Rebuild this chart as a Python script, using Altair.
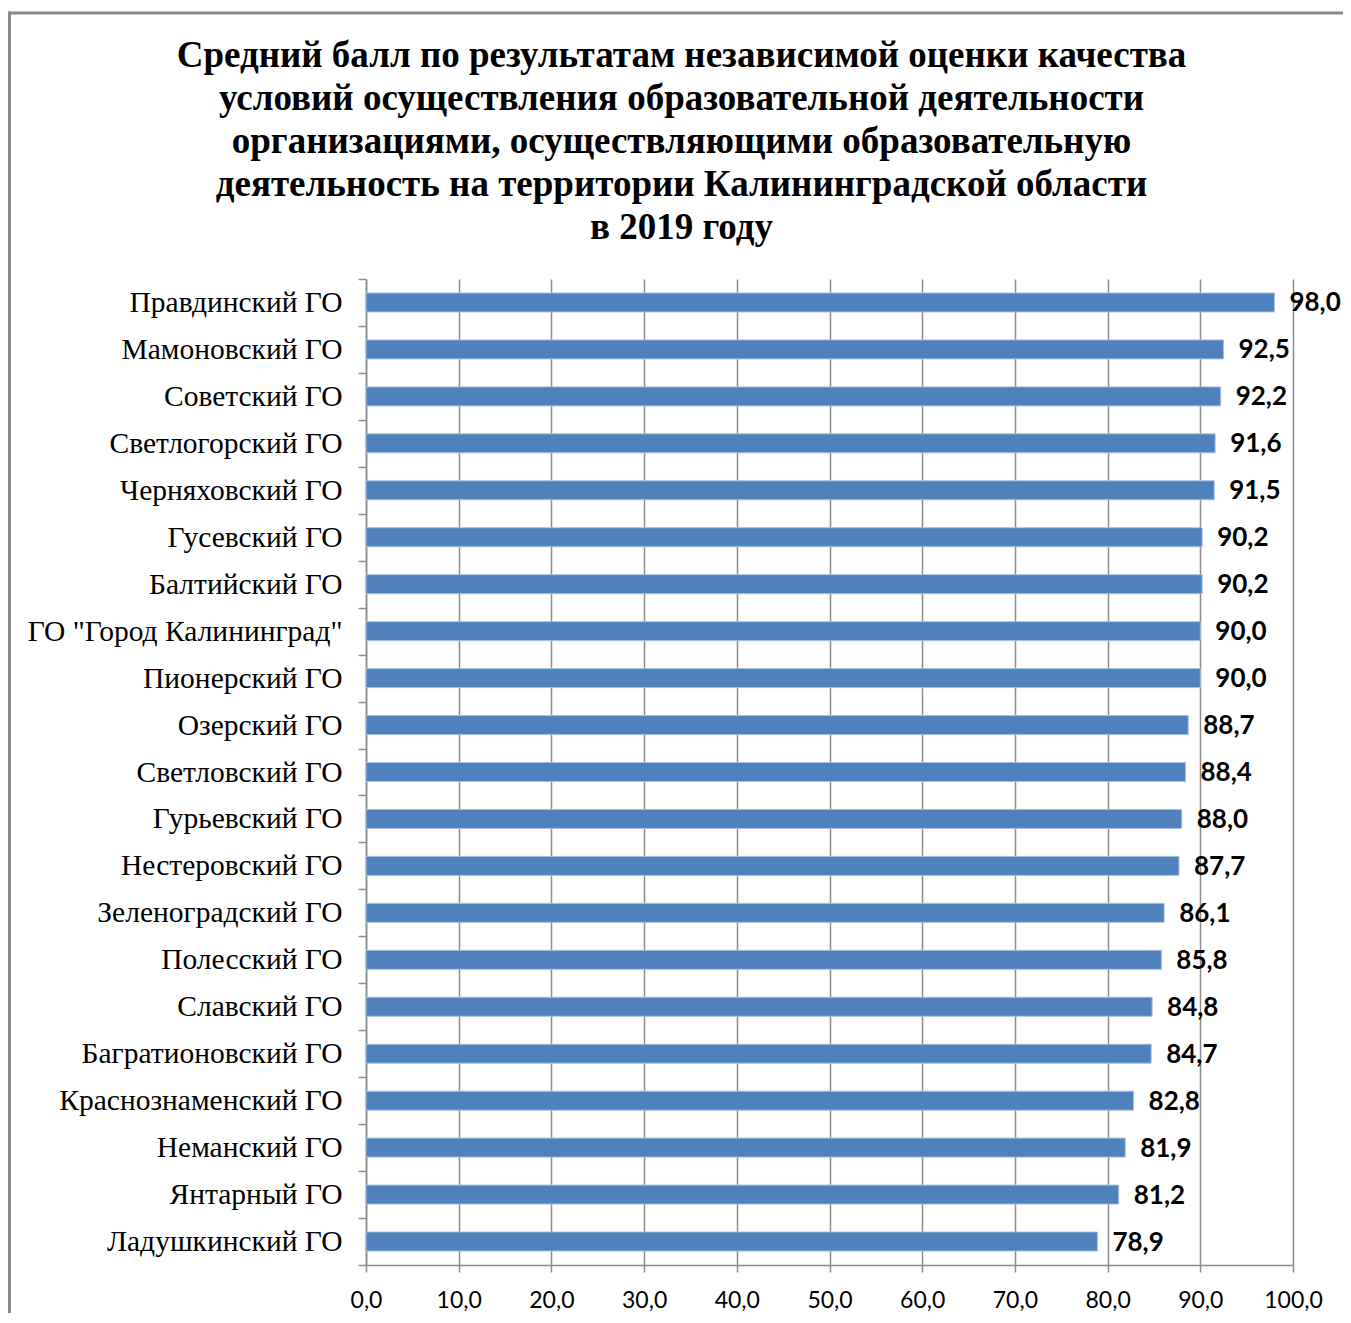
import altair as alt
import pandas as pd

categories = [
    "Правдинский ГО", "Мамоновский ГО", "Советский ГО", "Светлогорский ГО",
    "Черняховский ГО", "Гусевский ГО", "Балтийский ГО", "ГО \"Город Калининград\"",
    "Пионерский ГО", "Озерский ГО", "Светловский ГО", "Гурьевский ГО",
    "Нестеровский ГО", "Зеленоградский ГО", "Полесский ГО", "Славский ГО",
    "Багратионовский ГО", "Краснознаменский ГО", "Неманский ГО", "Янтарный ГО",
    "Ладушкинский ГО",
]
values = [98.0, 92.5, 92.2, 91.6, 91.5, 90.2, 90.2, 90.0, 90.0, 88.7, 88.4,
          88.0, 87.7, 86.1, 85.8, 84.8, 84.7, 82.8, 81.9, 81.2, 78.9]
x_ticks = [0, 10, 20, 30, 40, 50, 60, 70, 80, 90, 100]

title_lines = [
    "Средний балл по результатам независимой оценки качества",
    "условий осуществления образовательной деятельности",
    "организациями, осуществляющими образовательную",
    "деятельность на территории Калининградской области",
    "в 2019 году",
]

df = pd.DataFrame({"cat": categories, "val": values})

GRAY = "#8c8c8c"

base = alt.Chart(df).encode(
    y=alt.Y(
        "cat:N",
        sort=categories,
        title=None,
        scale=alt.Scale(paddingInner=0, paddingOuter=0),
        axis=alt.Axis(
            labelFont="Liberation Serif",
            labelFontSize=29.5,
            labelColor="black",
            labelPadding=16,
            labelLimit=400,
            tickBand="extent",
            tickSize=8,
            tickColor=GRAY,
            tickWidth=1.5,
            domainColor=GRAY,
            domainWidth=1.5,
            grid=False,
        ),
    )
)

bars = base.mark_bar(size=19, color="#4F81BD", stroke="#A9C0E0", strokeWidth=1).encode(
    x=alt.X(
        "val:Q",
        title=None,
        scale=alt.Scale(domain=[0, 100], nice=False),
        axis=alt.Axis(
            values=x_ticks,
            labelExpr="replace(format(datum.value, '.1f'), '.', ',')",
            labelFont="Lato",
            labelFontSize=23,
            labelColor="black",
            labelPadding=17,
            labelFlush=False,
            labelOverlap=False,
            tickSize=7,
            tickColor=GRAY,
            tickWidth=1.5,
            domainColor=GRAY,
            domainWidth=1.5,
            grid=True,
            gridColor=GRAY,
            gridWidth=1.5,
        ),
    )
)

labels = base.mark_text(
    align="left", baseline="middle", dx=15, dy=1,
    font="Lato", fontSize=26, fontWeight="bold", color="black",
).transform_calculate(
    lab="replace(format(datum.val, '.1f'), '.', ',')"
).encode(
    x=alt.X("val:Q"),
    text="lab:N",
)

frame_df = pd.DataFrame({"a": [0]})
frame_v = alt.Chart(frame_df).mark_rule(color="#8a8a8a", strokeWidth=3).encode(
    x=alt.value(-356.5), y=alt.value(-267.5), y2=alt.value(1100)
)
frame_h = alt.Chart(frame_df).mark_rule(color="#8a8a8a", strokeWidth=3).encode(
    x=alt.value(-358), x2=alt.value(1100), y=alt.value(-266)
)

chart = alt.layer(bars, labels, frame_v, frame_h).properties(
    width=927,
    height=986,
    autosize=alt.AutoSizeParams(type="none"),
    padding={"left": 358, "top": 271, "right": 50, "bottom": 48},
    title=alt.Title(
        title_lines,
        font="Liberation Serif",
        fontSize=37,
        fontWeight="bold",
        color="black",
        lineHeight=43,
        anchor="middle",
        frame="group",
        dx=-148,
        offset=-237,
    ),
).configure_view(stroke=None)

chart.save("out.html", embed_options={"renderer": "svg", "actions": False})
